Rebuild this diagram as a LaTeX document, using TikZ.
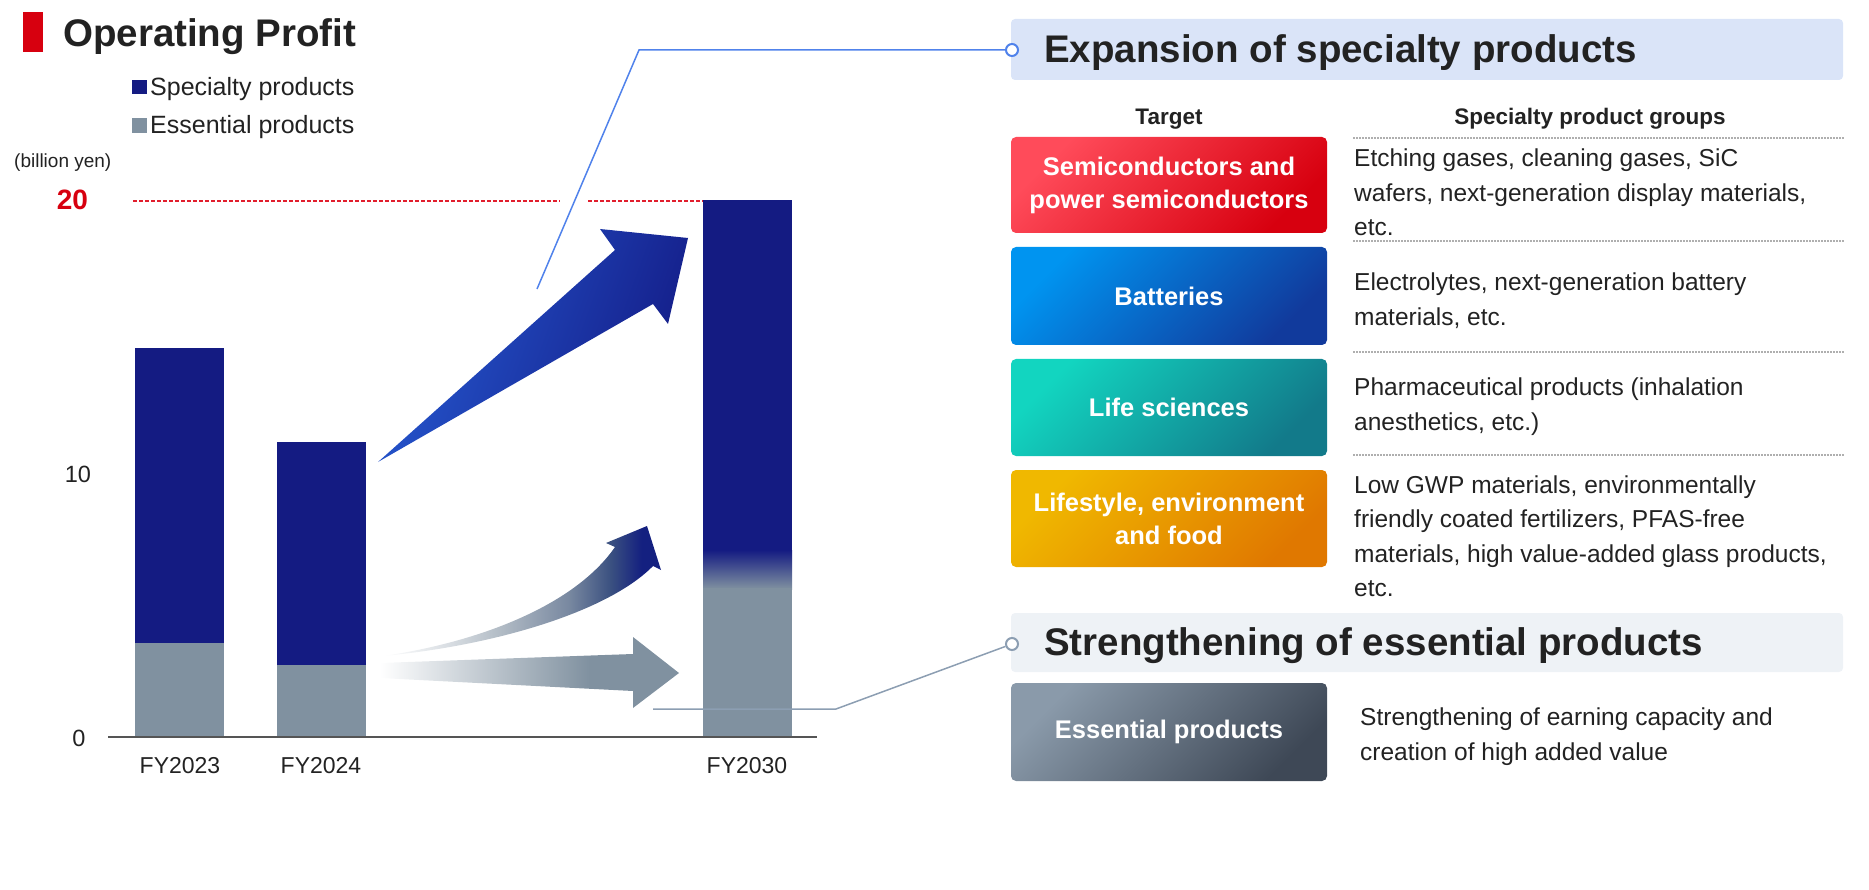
\documentclass[tikz,border=0pt]{standalone}
\usepackage{fontspec}
\setmainfont{Liberation Sans}
\definecolor{navy}{RGB}{20,27,130}
\definecolor{ess}{RGB}{128,145,160}
\definecolor{redc}{RGB}{215,0,15}
\definecolor{dashred}{RGB}{225,30,45}
\definecolor{txt}{RGB}{34,34,34}
\definecolor{conblue}{RGB}{80,130,235}
\definecolor{congray}{RGB}{140,158,178}
\definecolor{hdra}{RGB}{218,228,248}
\definecolor{hdrb}{RGB}{238,242,246}
\definecolor{sepc}{RGB}{175,175,175}
\definecolor{axisc}{RGB}{85,85,85}
\definecolor{bigA}{RGB}{38,90,210}
\definecolor{bigB}{RGB}{20,28,135}
\definecolor{cur1}{RGB}{216,221,226}
\definecolor{cur2}{RGB}{176,186,196}
\definecolor{cur3}{RGB}{120,136,160}
\definecolor{cur4}{RGB}{58,80,128}
\definecolor{cur5}{RGB}{20,32,128}
\definecolor{semA}{RGB}{255,75,90}
\definecolor{semB}{RGB}{215,0,15}
\definecolor{batA}{RGB}{0,148,240}
\definecolor{batB}{RGB}{17,58,156}
\definecolor{lifA}{RGB}{18,213,192}
\definecolor{lifB}{RGB}{18,122,138}
\definecolor{lstA}{RGB}{240,184,0}
\definecolor{lstB}{RGB}{224,120,0}
\definecolor{essA}{RGB}{138,154,170}
\definecolor{essB}{RGB}{62,72,86}
\pgfdeclarehorizontalshading{curvsh}{100bp}{color(0bp)=(white); color(25bp)=(white); color(37bp)=(cur1); color(46.5bp)=(cur2); color(58.5bp)=(cur3); color(66bp)=(cur4); color(71.5bp)=(cur5); color(100bp)=(cur5)}
\pgfdeclarehorizontalshading{straightsh}{100bp}{color(0bp)=(white); color(25bp)=(white); color(60bp)=(ess); color(100bp)=(ess)}
\begin{document}
\begin{tikzpicture}[x=1pt,y=-1pt,
  lbl/.style={inner sep=0, text=txt},
  desc/.style={anchor=base west, align=left, inner sep=0, text=txt, font=\fontsize{24.5}{34.5}\selectfont},
  gbox/.style 2 args={rounded corners=5pt, top color=#1, bottom color=#2, shading angle=45, minimum width=316pt, inner sep=0, text=white, align=center, font=\bfseries\fontsize{25.5}{33}\selectfont},
  hdr/.style={rounded corners=4pt, minimum width=832pt, inner sep=0},
  htxt/.style={anchor=base west, inner sep=0, text=txt, font=\bfseries\fontsize{38.5}{40}\selectfont},
  colhead/.style={anchor=base, inner sep=0, text=txt, font=\bfseries\fontsize{22.5}{24}\selectfont},
  sepline/.style={draw=sepc, line width=1.2pt, dash pattern=on 1.5pt off 1.5pt},
  pin/.style={circle, draw=#1, fill=white, line width=2pt, minimum size=12pt, inner sep=0},
]
\useasboundingbox (0,0) rectangle (1869,890);

% ---------- title and legend ----------
\fill[redc] (23,12) rectangle (43,52);
\node[lbl, anchor=base west, font=\bfseries\fontsize{38.5}{40}\selectfont] (title) at (63,47) {Operating Profit};
\fill[navy] (132,80) rectangle (147,94);
\node[lbl, anchor=base west, font=\fontsize{25}{27}\selectfont] (legs) at (150,96) {Specialty products};
\fill[ess] (132,118) rectangle (147,133);
\node[lbl, anchor=base west, font=\fontsize{25}{27}\selectfont] (lege) at (150,134) {Essential products};
\node[lbl, anchor=base west, font=\fontsize{19}{21}\selectfont] (unit) at (14,168) {(billion yen)};

% ---------- axis labels ----------
\node[lbl, anchor=base, text=redc, font=\bfseries\fontsize{28}{30}\selectfont] (y20) at (72.5,210) {20};
\node[lbl, anchor=base, font=\fontsize{23.5}{25}\selectfont] (y10) at (78,482) {10};
\node[lbl, anchor=base, font=\fontsize{23.5}{25}\selectfont] (y0) at (79,746) {0};

% red dashed target line (interrupted where the leader line crosses)
\draw[dashred, line width=2pt, dash pattern=on 4pt off 2pt] (133,201) -- (560,201);
\draw[dashred, line width=2pt, dash pattern=on 4pt off 2pt] (588,201) -- (703,201);

% ---------- bars ----------
\fill[navy] (135,348) rectangle (224,643);
\fill[ess] (135,643) rectangle (224,737);
\fill[navy] (277,442) rectangle (366,665);
\fill[ess] (277,665) rectangle (366,737);
\fill[navy] (703,200) rectangle (792,551);
\shade[top color=navy, bottom color=ess] (703,550) rectangle (792,589);
\fill[ess] (703,588) rectangle (792,737);

\draw[axisc, line width=1.5pt] (108,737) -- (817,737);

\node[lbl, anchor=base, font=\fontsize{23}{25}\selectfont] (fy23) at (180,773) {FY2023};
\node[lbl, anchor=base, font=\fontsize{23}{25}\selectfont] (fy24) at (321,773) {FY2024};
\node[lbl, anchor=base, font=\fontsize{23}{25}\selectfont] (fy30) at (747,773) {FY2030};

% ---------- growth arrows ----------
\shade[left color=bigA, right color=bigB, shading angle=70]
  (378,462) -- (615,250) -- (600,229) -- (688,238) -- (668,324) -- (653,304) -- cycle;
\shade[shading=curvsh]
  (383,656) .. controls (480,642) and (575,605) .. (615,547)
  -- (606,543) -- (647,526) -- (661,570) -- (653,566)
  .. controls (610,610) and (500,645) .. (383,656) -- cycle;
\shade[shading=straightsh]
  (380,663) -- (633,654) -- (633,637) -- (679,673) -- (633,708) -- (633,691) -- (380,678) -- cycle;

% ---------- right panel: headers ----------
\node[hdr, fill=hdra, minimum height=61pt] (h1) at (1427,49.5) {};
\node[htxt] (h1t) at (1044,63) {Expansion of specialty products};
\node[hdr, fill=hdrb, minimum height=59pt] (h2) at (1427,642.5) {};
\node[htxt] (h2t) at (1044,655) {Strengthening of essential products};

\node[colhead] (ct) at (1169,125) {Target};
\node[colhead] (cg) at (1590,125) {Specialty product groups};

% separators
\draw[sepline] (1353,138) -- (1844,138);
\draw[sepline] (1353,241) -- (1844,241);
\draw[sepline] (1353,352) -- (1844,352);
\draw[sepline] (1353,455) -- (1844,455);

% target boxes
\node[gbox={semA}{semB}, minimum height=96pt] (semi) at (1169,185)
  {Semiconductors and\\power semiconductors};
\node[gbox={batA}{batB}, minimum height=98pt] (batt) at (1169,296)
  {Batteries};
\node[gbox={lifA}{lifB}, minimum height=97pt] (life) at (1169,407.5)
  {Life sciences};
\node[gbox={lstA}{lstB}, minimum height=97pt] (lifest) at (1169,518.5)
  {Lifestyle, environment\\and food};
\node[gbox={essA}{essB}, minimum height=98pt] (essb) at (1169,732)
  {Essential products};

% descriptions (base anchor = baseline of the last line)
\node[desc] (d1) at (1354,236) {Etching gases, cleaning gases, SiC\\wafers, next-generation display materials,\\etc.};
\node[desc] (d2) at (1354,325.5) {Electrolytes, next-generation battery\\materials, etc.};
\node[desc] (d3) at (1354,430.5) {Pharmaceutical products (inhalation\\anesthetics, etc.)};
\node[desc] (d4) at (1354,596.5) {Low GWP materials, environmentally\\friendly coated fertilizers, PFAS-free\\materials, high value-added glass products,\\etc.};
\node[desc] (d5) at (1360,760) {Strengthening of earning capacity and\\creation of high added value};

% ---------- leader lines ----------
\node[pin=conblue] (p1) at (1012,50) {};
\node[pin=congray] (p2) at (1012,644) {};
\coordinate (b0) at (537,289);
\coordinate (b1) at (639,50);
\draw[conblue, line width=1.5pt] (b0) -- (b1) -- (p1);
\coordinate (g0) at (653,709);
\coordinate (g1) at (836,709);
\draw[congray, line width=1.5pt] (g0) -- (g1) -- (p2);
\end{tikzpicture}
\end{document}
